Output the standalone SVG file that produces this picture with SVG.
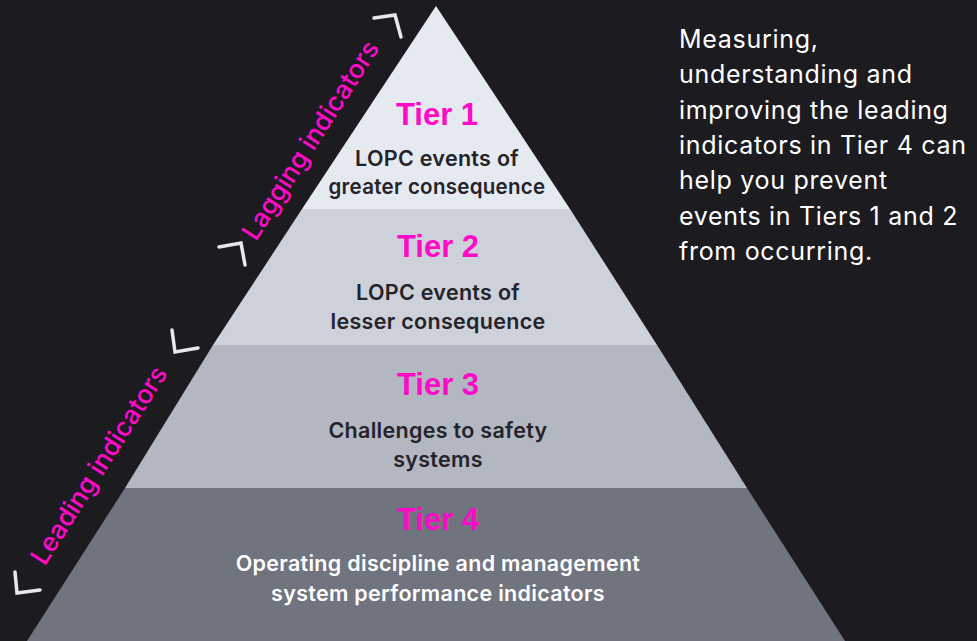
<svg xmlns="http://www.w3.org/2000/svg" width="977" height="641" viewBox="0 0 977 641">
<style>
.tier{font-family:"Liberation Sans",Arial,sans-serif;font-weight:bold;font-size:31px;fill:#FF0AC8;text-anchor:middle}
.desc{font-family:Inter,"Liberation Sans",Arial,sans-serif;font-weight:600;font-size:21.5px;letter-spacing:0.3px;fill:#232329;text-anchor:middle}
.descw{fill:#FFFFFF}
.side{font-family:Inter,"Liberation Sans",Arial,sans-serif;font-size:26px;font-weight:500;fill:#FF0AC8;text-anchor:middle}
.para{font-family:Inter,"Liberation Sans",Arial,sans-serif;font-size:25px;letter-spacing:0.7px;fill:#FFFFFF}
.br{fill:none;stroke:#E6E8EE;stroke-width:3.5;stroke-linecap:round;stroke-linejoin:miter}
</style>
<rect width="977" height="641" fill="#1C1B20"/>
<g id="tier1">
<polygon points="436,6 302,209 570,209" fill="#E5E9F0"/>
<text class="tier" x="437" y="125">Tier 1</text>
<text class="desc" x="437" y="166">LOPC events of</text>
<text class="desc" x="437" y="194" textLength="217" lengthAdjust="spacingAndGlyphs">greater consequence</text>
</g>
<g id="tier2">
<polygon points="302,209 570,209 657,345 213,345" fill="#CDD1D9"/>
<text class="tier" x="438" y="257">Tier 2</text>
<text class="desc" x="438" y="300">LOPC events of</text>
<text class="desc" x="438" y="329">lesser consequence</text>
</g>
<g id="tier3">
<polygon points="213,345 657,345 747,488 125,488" fill="#B3B7C2"/>
<text class="tier" x="438" y="395">Tier 3</text>
<text class="desc" x="438" y="438">Challenges to safety</text>
<text class="desc" x="438" y="467">systems</text>
</g>
<g id="tier4">
<polygon points="125,488 747,488 845,641 27,641" fill="#70747F"/>
<text class="tier" x="438" y="530">Tier 4</text>
<text class="desc descw" x="438" y="571">Operating discipline and management</text>
<text class="desc descw" x="438" y="601">system performance indicators</text>
</g>
<g id="lagging">
<text class="side" transform="translate(318,145) rotate(-57.4)">Lagging indicators</text>
<polyline class="br" points="374,18 395,15 401,37"/>
<polyline class="br" points="219,247 241,243 245,265"/>
</g>
<g id="leading">
<text class="side" transform="translate(106.5,470) rotate(-57.4)">Leading indicators</text>
<polyline class="br" points="172,330 175,352 198,348"/>
<polyline class="br" points="15,572 17,593 40,590"/>
</g>
<g id="note">
<text class="para" x="679" y="48">Measuring,</text>
<text class="para" x="679" y="83.3">understanding and</text>
<text class="para" x="679" y="118.6">improving the leading</text>
<text class="para" x="679" y="154">indicators in Tier 4 can</text>
<text class="para" x="679" y="189.3">help you prevent</text>
<text class="para" x="679" y="224.6">events in Tiers 1 and 2</text>
<text class="para" x="679" y="260">from occurring.</text>
</g>
</svg>
